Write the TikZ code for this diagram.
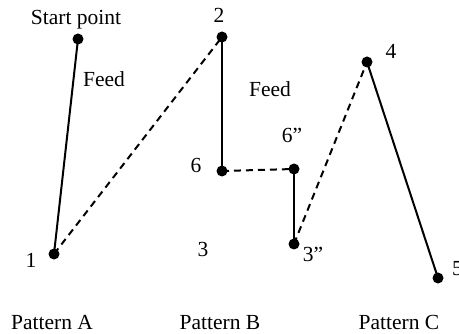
\documentclass[tikz,border=0pt]{standalone}
\usepackage{fontspec}
\setmainfont{Liberation Serif}
\begin{document}
\begin{tikzpicture}[x=1pt,y=-1pt,
  dot/.style={circle,fill=black,inner sep=0pt,minimum size=11pt},
  lbl/.style={inner sep=0pt,anchor=base,font=\fontsize{21.5}{26}\selectfont},
  feedline/.style={line width=2pt},
  moveline/.style={line width=2pt,dash pattern=on 7pt off 5pt}]
\useasboundingbox (0,0) rectangle (459,334);
% points
\node[dot] (s) at (78,39) {};
\node[dot] (p1) at (54,254) {};
\node[dot] (p2) at (222,37) {};
\node[dot] (p6) at (222,171) {};
\node[dot] (p6b) at (294,169) {};
\node[dot] (p3b) at (294,244) {};
\node[dot] (p4) at (367,62) {};
\node[dot] (p5) at (438,278) {};
% connectors
\draw[feedline] (s.center) -- (p1.center);
\draw[moveline] (p1.center) -- (p2.center);
\draw[feedline] (p2.center) -- (p6.center);
\draw[moveline] (p6.center) -- (p6b.center);
\draw[feedline] (p6b.center) -- (p3b.center);
\draw[moveline] (p3b.center) -- (p4.center);
\draw[feedline] (p4.center) -- (p5.center);
% labels
\node[lbl] (ls) at (76,25) {Start point};
\node[lbl] (l2) at (219,23) {2};
\node[lbl] (lf1) at (104,87) {Feed};
\node[lbl] (lf2) at (270,97) {Feed};
\node[lbl] (l4) at (391,59) {4};
\node[lbl] (l1) at (31,268) {1};
\node[lbl] (l6) at (196,173) {6};
\node[lbl] (l3) at (203,257) {3};
\node[lbl] (l6b) at (292,143) {6”};
\node[lbl] (l3b) at (313,262) {3”};
\node[lbl,anchor=base west] (l5) at (452,276) {5};
\node[lbl] (pa) at (52,330) {Pattern A};
\node[lbl] (pb) at (220,330) {Pattern B};
\node[lbl] (pc) at (399,330) {Pattern C};
\end{tikzpicture}
\end{document}
